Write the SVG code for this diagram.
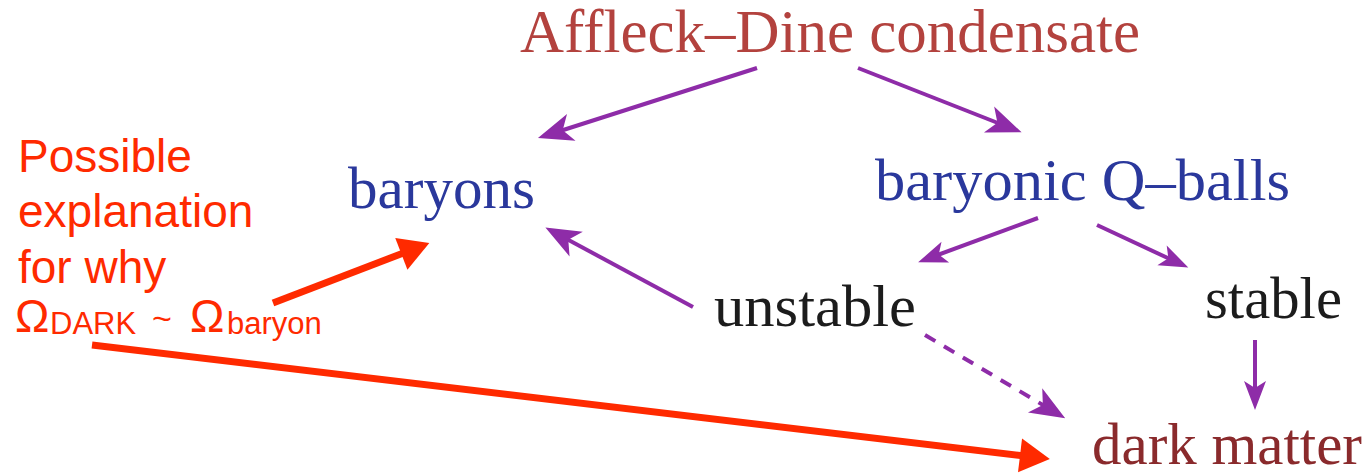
<svg xmlns="http://www.w3.org/2000/svg" width="1370" height="475" viewBox="0 0 1370 475">
<style>
.serif{font-family:"Liberation Serif","Times New Roman",serif;font-size:59px}
.title{fill:#b3423e;font-size:61px}
.blue{fill:#2a389c}
.black{fill:#1c1c1c}
.dm{fill:#8a2a2c}
.red{font-family:"Liberation Sans",Arial,sans-serif;fill:#ff2a00;font-size:46px}
.sub{font-size:31px}
.p{stroke:#8e2ca8;stroke-width:4;fill:none;marker-end:url(#ph)}
.ps{stroke:#8e2ca8;stroke-width:4;fill:none;marker-end:url(#phs)}
.r{stroke:#ff2a00;stroke-width:7;fill:none;marker-end:url(#rh)}
</style>
<defs>
<marker id="ph" markerUnits="userSpaceOnUse" viewBox="-20 -20 50 40" markerWidth="50" markerHeight="40" refX="0" refY="0" orient="auto" overflow="visible">
<path d="M20,0 L-15,-14 L-6,0 L-15,14 Z" fill="#8e2ca8"/>
</marker>
<marker id="phs" markerUnits="userSpaceOnUse" viewBox="-20 -20 50 40" markerWidth="50" markerHeight="40" refX="0" refY="0" orient="auto" overflow="visible">
<path d="M18,0 L-11,-11 L-4,0 L-11,11 Z" fill="#8e2ca8"/>
</marker>
<marker id="rh" markerUnits="userSpaceOnUse" viewBox="-30 -20 60 40" markerWidth="60" markerHeight="40" refX="0" refY="0" orient="auto" overflow="visible">
<path d="M-5,-17 L25,0 L-5,17 Z" fill="#ff2a00"/>
</marker>
</defs>
<rect width="1370" height="475" fill="#ffffff"/>
<g id="connectors">
<line class="p" x1="757" y1="68" x2="557" y2="132"/>
<line class="p" x1="858" y1="68" x2="1003" y2="125"/>
<line class="ps" x1="1038" y1="218" x2="935" y2="256"/>
<line class="ps" x1="1097" y1="225" x2="1172" y2="260"/>
<line class="p" x1="693" y1="307" x2="563" y2="237"/>
<line class="p" x1="925" y1="335" x2="1048" y2="408" stroke-dasharray="12 10"/>
<line class="ps" x1="1255" y1="340" x2="1255" y2="392"/>
<line class="r" x1="273" y1="303" x2="406" y2="252"/>
<line class="r" x1="92" y1="345" x2="1025" y2="456"/>
</g>
<g id="affleck-dine"><text class="serif title" x="520" y="52" textLength="620" lengthAdjust="spacingAndGlyphs">Affleck–Dine condensate</text></g>
<g id="baryons"><text class="serif blue" x="348" y="208" textLength="187" lengthAdjust="spacingAndGlyphs">baryons</text></g>
<g id="qballs"><text class="serif blue" x="875" y="200" textLength="415" lengthAdjust="spacingAndGlyphs">baryonic Q–balls</text></g>
<g id="unstable"><text class="serif black" x="714" y="326" textLength="202" lengthAdjust="spacingAndGlyphs">unstable</text></g>
<g id="stable"><text class="serif black" x="1205" y="318" textLength="137" lengthAdjust="spacingAndGlyphs">stable</text></g>
<g id="darkmatter"><text class="serif dm" x="1092" y="464" textLength="270" lengthAdjust="spacingAndGlyphs">dark matter</text></g>
<g id="annotation">
<text class="red" x="18" y="172">Possible</text>
<text class="red" x="18" y="227">explanation</text>
<text class="red" x="18" y="283">for why</text>
<text class="red" y="332"><tspan x="15">Ω</tspan><tspan class="sub" x="50" y="334">DARK</tspan><tspan x="152" y="330" font-size="34">~</tspan><tspan x="190" y="332">Ω</tspan><tspan class="sub" x="227" y="334">baryon</tspan></text>
</g>
</svg>
